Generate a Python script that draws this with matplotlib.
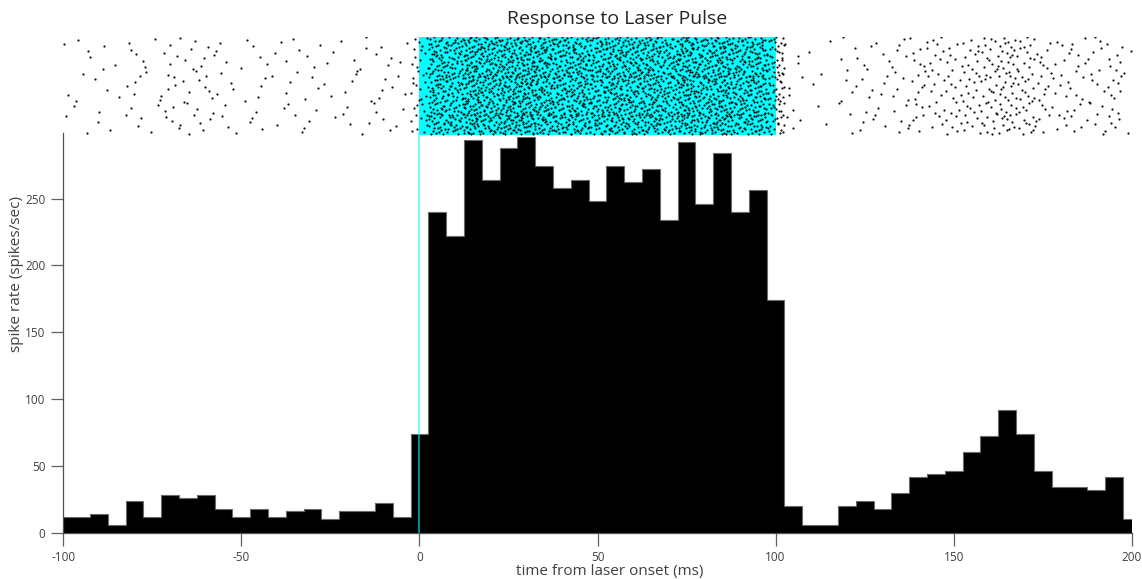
import numpy as np
import matplotlib
matplotlib.use("Agg")
import matplotlib.pyplot as plt
from matplotlib.patches import Rectangle

plt.rcParams['font.family'] = ['Open Sans', 'DejaVu Sans']

# PSTH: bin centres (ms) and firing rate (spikes/sec), 5 ms bins
bin_centers = list(range(-100, 205, 5))
spike_rate = [
    12, 12, 14, 6, 24, 12, 28, 26, 28, 18,
    12, 18, 12, 16, 18, 10, 16, 16, 22, 12,
    74, 240, 222, 294, 264, 288, 296, 274, 258, 264,
    248, 274, 262, 272, 234, 292, 246, 284, 240, 256,
    174, 20, 6, 6, 20, 24, 18, 30, 42, 44,
    46, 60, 72, 92, 74, 46, 34, 34, 32, 42,
    10,
]
bin_width = 5.0
n_trials = 100
laser_on, laser_off = 0, 100
x_ticks = [-100, -50, 0, 50, 100, 150, 200]
y_ticks = [0, 50, 100, 150, 200, 250]


def halton(index, base):
    """Radical inverse of an integer in the given base."""
    f, r = 1.0, 0.0
    while index > 0:
        f /= base
        r += f * (index % base)
        index //= base
    return r


# Raster: spike counts per bin follow from rate * trials * bin width;
# spikes are spread over the bin and the trials with a Halton sequence.
spike_t, spike_trial = [], []
seq = 17
for c, r in zip(bin_centers, spike_rate):
    n = int(round(r * n_trials * bin_width / 1000.0))
    for k in range(n):
        u = halton(seq, 2)
        v = halton(seq, 3)
        seq += 1
        t = c - bin_width / 2 + bin_width * u
        if -100 <= t <= 200:
            spike_t.append(t)
            spike_trial.append(int(v * n_trials))

W, H = 1142, 579
fig = plt.figure(figsize=(W / 100, H / 100), dpi=100)

left = 63.3 / W
width = (1131.7 - 63.3) / W
ax = fig.add_axes([left, 1 - 532.7 / H, width, (532.7 - 133) / H])
axr = fig.add_axes([left, 1 - 134.5 / H, width, (134.5 - 37) / H])

grey = '#404040'

# histogram: one filled step shape with a thin grey outline
edges = [c - bin_width / 2 for c in bin_centers] + [bin_centers[-1] + bin_width / 2]
ax.stairs(spike_rate, edges, fill=True, color='black', linewidth=0, zorder=2)
ax.stairs(spike_rate, edges, color='#6a6a6a', linewidth=0.8, zorder=3)
ax.axvline(0, color='#00ffff', alpha=0.6, linewidth=1.3, zorder=4)
ax.set_xlim(-100, 200)
ax.set_ylim(0, 299)
ax.set_xticks(x_ticks)
ax.set_yticks(y_ticks)
ax.set_xticklabels([str(v) for v in x_ticks])
ax.set_yticklabels([str(v) for v in y_ticks])
for s in ['top', 'right']:
    ax.spines[s].set_visible(False)
for s in ['left', 'bottom']:
    ax.spines[s].set_color('#505050')
    ax.spines[s].set_linewidth(0.9)
    ax.spines[s].set_zorder(5)
ax.tick_params(direction='out', length=9, width=0.9, color='#606060',
               labelsize=8.5, labelcolor=grey, pad=4)

fig.text(610 / W, 1 - 571 / H, 'time from laser onset (ms)', ha='center',
         va='center', fontsize=11, color=grey)
fig.text(17 / W, 1 - 274 / H, 'spike rate (spikes/sec)', ha='center',
         va='center', rotation=90, fontsize=11, color=grey)
fig.text(617 / W, 1 - 19 / H, 'Response to Laser Pulse', ha='center',
         va='center', fontsize=14, color='#252525')

# raster
axr.add_patch(Rectangle((laser_on, -0.5), laser_off - laser_on, n_trials,
                        facecolor='#00ffff', edgecolor='none', zorder=1))
axr.plot(spike_t, spike_trial, linestyle='none', marker='o', markersize=1.6,
         markeredgewidth=0, color='#111111', zorder=2)
axr.set_xlim(-100, 200)
axr.set_ylim(-0.5, n_trials - 0.5)
axr.axis('off')

fig.savefig('out.png', dpi=100)
